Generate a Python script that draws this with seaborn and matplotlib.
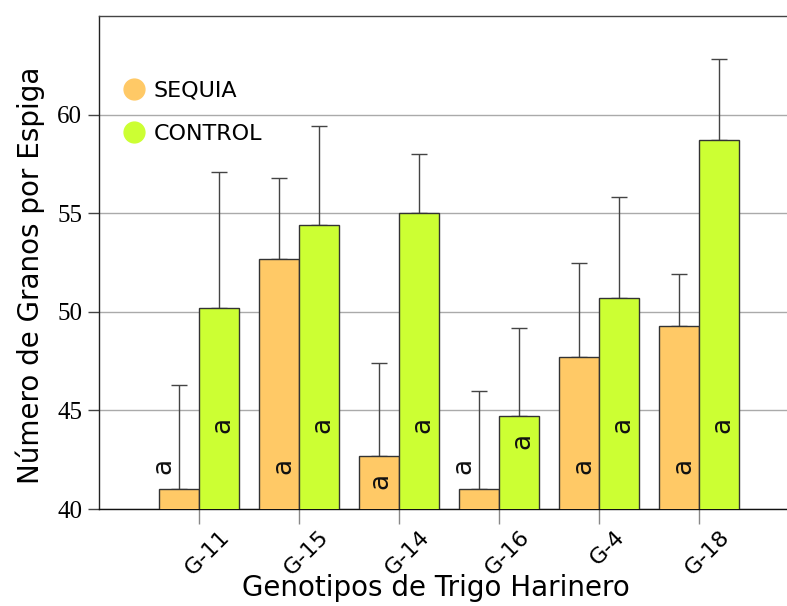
import numpy as np
import pandas as pd
import matplotlib
matplotlib.use("Agg")
import matplotlib.pyplot as plt
import matplotlib.transforms as mtransforms
from matplotlib.lines import Line2D
import seaborn as sns

# Grain counts per spike for bread wheat genotypes under two treatments
genotipos = ["G-11", "G-15", "G-14", "G-16", "G-4", "G-18"]
sequia = [41.0, 52.7, 42.7, 41.0, 47.7, 49.3]
sequia_err = [5.3, 4.1, 4.7, 5.0, 4.8, 2.6]
control = [50.2, 54.4, 55.0, 44.7, 50.7, 58.7]
control_err = [6.9, 5.0, 3.0, 4.5, 5.1, 4.1]
letras_sequia = ["a", "a", "a", "a", "a", "a"]
letras_control = ["a", "a", "a", "a", "a", "a"]
tratamientos = ["SEQUIA", "CONTROL"]
colores = {"SEQUIA": "#FFC966", "CONTROL": "#CCFF33"}

df = pd.DataFrame({
    "Genotipo": genotipos * 2,
    "Tratamiento": ["SEQUIA"] * len(genotipos) + ["CONTROL"] * len(genotipos),
    "Granos": sequia + control,
})

sns.set_theme(style="white")
plt.rcParams.update({"text.color": "black", "axes.labelcolor": "black",
                     "xtick.color": "black", "ytick.color": "black"})
fig = plt.figure(figsize=(7.87, 6.06), dpi=100)
ax = fig.add_axes([0.1258, 0.160, 0.8742, 0.8136])

sns.barplot(data=df, x="Genotipo", y="Granos", hue="Tratamiento",
            order=genotipos, hue_order=tratamientos, palette=colores,
            saturation=1, width=0.8, edgecolor="#333333", linewidth=1.0,
            errorbar=None, legend=False, ax=ax, zorder=3)

# one-sided (upward) error bars at each bar centre
x = np.arange(len(genotipos))
for off, vals, errs in [(-0.2, sequia, sequia_err), (0.2, control, control_err)]:
    ax.errorbar(x + off, vals, yerr=[np.zeros(len(vals)), errs], fmt="none",
                ecolor="#444444", elinewidth=1.0, capsize=6, capthick=1.0,
                zorder=2)

# significance letters, rotated, inside or next to each bar
for i in range(len(genotipos)):
    s = sequia[i]
    if s < 42.0:
        xs, ys = i - 0.36, 42.2
    elif s < 44.0:
        xs, ys = i - 0.19, 41.45
    else:
        xs, ys = i - 0.16, 42.2
    ax.text(xs, ys, letras_sequia[i], rotation=90, ha="center", va="center",
            fontsize=19, color="#111111", zorder=5)
    c = control[i]
    yc = 44.25 if c > 46 else c - 1.25
    ax.text(i + 0.23, yc, letras_control[i], rotation=90, ha="center",
            va="center", fontsize=19, color="#111111", zorder=5)

ax.set_xlim(-1.0, 5.88)
ax.set_ylim(40, 65)
ax.set_yticks([40, 45, 50, 55, 60])
ax.yaxis.grid(True, color="#aaaaaa", linewidth=1.0, zorder=0)
ax.set_axisbelow(True)

ax.tick_params(axis="y", which="major", direction="out", length=8,
               width=1.0, color="#444444", left=True, pad=4)
ax.tick_params(axis="x", which="major", direction="out", length=11,
               width=1.0, color="#888888", bottom=True, pad=2)
for lab in ax.get_yticklabels():
    lab.set_fontfamily("Liberation Serif")
    lab.set_fontsize(18)
ax.set_xticks(x)
ax.set_xticklabels(genotipos, rotation=45, ha="center",
                   fontsize=16, fontfamily="DejaVu Sans")
shift = mtransforms.ScaledTranslation(8 / 100, 0, fig.dpi_scale_trans)
for lab in ax.get_xticklabels():
    lab.set_transform(lab.get_transform() + shift)

for side in ["left", "top", "bottom"]:
    ax.spines[side].set_visible(True)
    ax.spines[side].set_linewidth(1.0)
ax.spines["left"].set_color("#222222")
ax.spines["top"].set_color("#444444")
ax.spines["bottom"].set_color("#111111")
ax.spines["right"].set_visible(False)

ax.set_xlabel("Genotipos de Trigo Harinero", fontsize=20,
              fontfamily="DejaVu Sans", labelpad=0)
ax.xaxis.set_label_coords(0.49, -0.131)
ax.set_ylabel("Número de Granos por Espiga", fontsize=20,
              fontfamily="DejaVu Sans")
ax.yaxis.set_label_coords(-0.078, 0.475)

handles = [Line2D([0], [0], marker="o", linestyle="none", markersize=15,
                  markerfacecolor=colores[t], markeredgecolor=colores[t])
           for t in tratamientos]
ax.legend(handles, tratamientos, loc="upper left",
          bbox_to_anchor=(0.005, 0.91), frameon=False, fontsize=16,
          handlelength=1.0, handletextpad=0.4, labelspacing=1.05)

fig.savefig("out.png", dpi=100)
